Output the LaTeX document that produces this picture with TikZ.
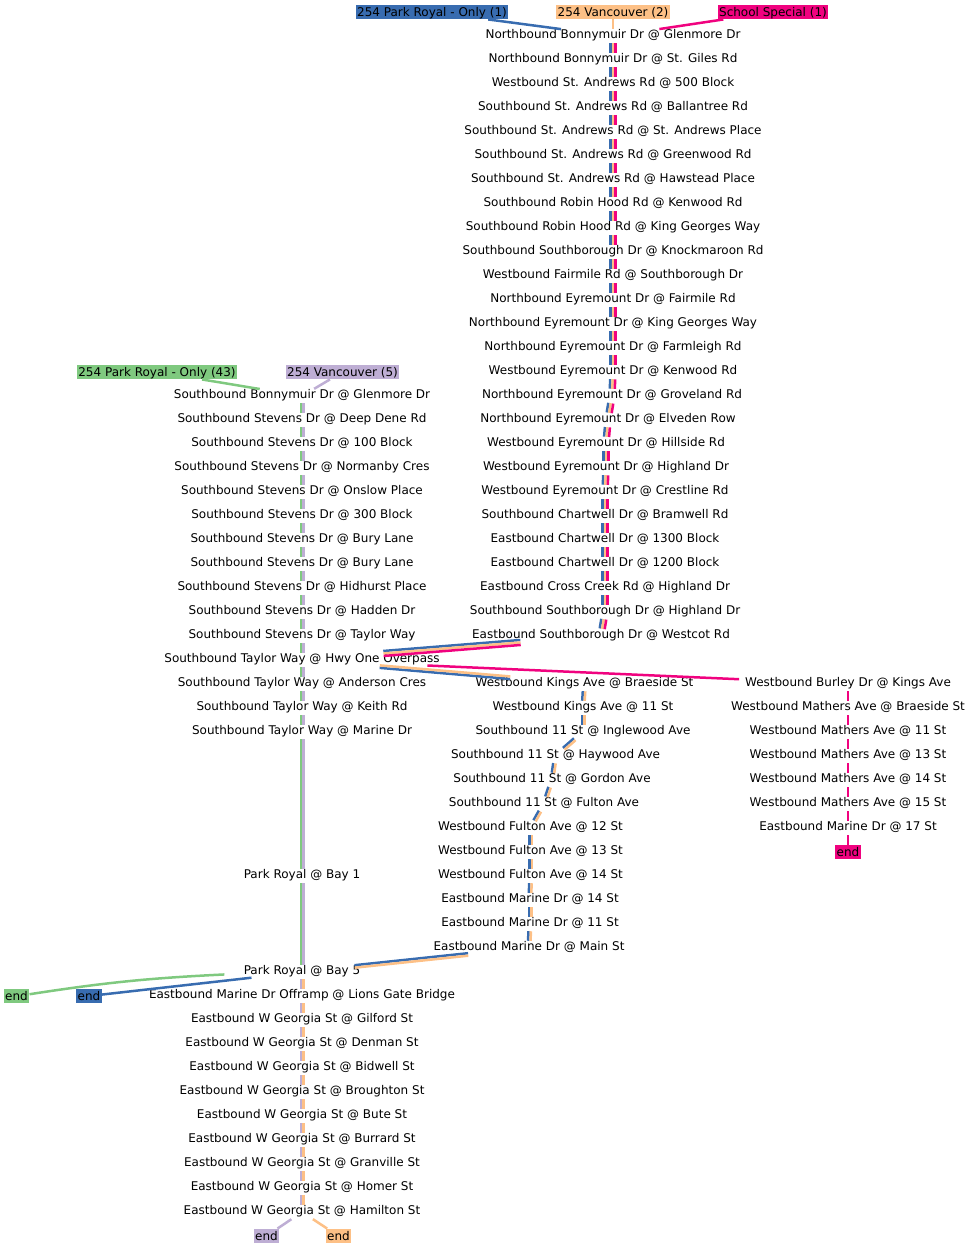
\documentclass[tikz,border=0pt]{standalone}
\usepackage{fontspec}
\setmainfont{DejaVu Sans}
\usepackage{xcolor}
\usepackage{tikz}
\usetikzlibrary{calc,shapes.geometric}

\definecolor{acgreen}{HTML}{7FC97F}
\definecolor{acpurple}{HTML}{BEAED4}
\definecolor{acorange}{HTML}{FDC086}
\definecolor{acblue}{HTML}{386CB0}
\definecolor{acpink}{HTML}{F0027F}

% parallel route lines between two stops
\newcommand{\bundle}[3]{%
  \path (#1) -- (#2) coordinate[pos=0] (bs) coordinate[pos=1] (be);
  \foreach \c/\o in {#3}
    \draw[routeline, \c] ($(bs)!\o!90:(be)$) -- ($(be)!\o!-90:(bs)$);
}

\begin{document}
\begin{tikzpicture}[
        x=1pt, y=-1pt,
        font=\fontsize{12}{14}\selectfont,
        stop/.style={ellipse, inner sep=0pt, text height=7.5pt, text depth=2.4pt, yshift=-2pt},
        tag/.style={rectangle, fill=#1, inner xsep=1.5pt, inner ysep=1pt, text height=10.5pt, text depth=2pt, yshift=-2pt},
        routeline/.style={line width=2.5pt}
    ]
    \useasboundingbox (0,0) rectangle (971,1248);

    % route tags
    \node[tag=acblue] (pro1) at (432,10) {254 Park Royal - Only (1)};
    \node[tag=acorange] (van2) at (613,10) {254 Vancouver (2)};
    \node[tag=acpink] (ss1) at (773,10) {School Special (1)};
    \node[tag=acgreen] (pro43) at (157,370) {254 Park Royal - Only (43)};
    \node[tag=acpurple] (van5) at (342.5,370) {254 Vancouver (5)};

    % upper stops
    \foreach \x/\txt [count=\i from 0] in {
        613/Northbound Bonnymuir Dr @ Glenmore Dr,
        613/Northbound Bonnymuir Dr @ St. Giles Rd,
        613/Westbound St. Andrews Rd @ 500 Block,
        613/Southbound St. Andrews Rd @ Ballantree Rd,
        613/Southbound St. Andrews Rd @ St. Andrews Place,
        613/Southbound St. Andrews Rd @ Greenwood Rd,
        613/Southbound St. Andrews Rd @ Hawstead Place,
        613/Southbound Robin Hood Rd @ Kenwood Rd,
        613/Southbound Robin Hood Rd @ King Georges Way,
        613/Southbound Southborough Dr @ Knockmaroon Rd,
        613/Westbound Fairmile Rd @ Southborough Dr,
        613/Northbound Eyremount Dr @ Fairmile Rd,
        613/Northbound Eyremount Dr @ King Georges Way,
        613/Northbound Eyremount Dr @ Farmleigh Rd,
        613/Westbound Eyremount Dr @ Kenwood Rd,
        612/Northbound Eyremount Dr @ Groveland Rd,
        608/Northbound Eyremount Dr @ Elveden Row,
        606/Westbound Eyremount Dr @ Hillside Rd,
        606/Westbound Eyremount Dr @ Highland Dr,
        605/Westbound Eyremount Dr @ Crestline Rd,
        605/Southbound Chartwell Dr @ Bramwell Rd,
        605/Eastbound Chartwell Dr @ 1300 Block,
        605/Eastbound Chartwell Dr @ 1200 Block,
        605/Eastbound Cross Creek Rd @ Highland Dr,
        605/Southbound Southborough Dr @ Highland Dr,
        601/Eastbound Southborough Dr @ Westcot Rd}
        \node[stop] (t\i) at (\x,{34+24*\i}) {\txt};

    % left stops
    \foreach \txt [count=\i from 0] in {
        Southbound Bonnymuir Dr @ Glenmore Dr,
        Southbound Stevens Dr @ Deep Dene Rd,
        Southbound Stevens Dr @ 100 Block,
        Southbound Stevens Dr @ Normanby Cres,
        Southbound Stevens Dr @ Onslow Place,
        Southbound Stevens Dr @ 300 Block,
        Southbound Stevens Dr @ Bury Lane,
        Southbound Stevens Dr @ Bury Lane,
        Southbound Stevens Dr @ Hidhurst Place,
        Southbound Stevens Dr @ Hadden Dr,
        Southbound Stevens Dr @ Taylor Way,
        Southbound Taylor Way @ Hwy One Overpass,
        Southbound Taylor Way @ Anderson Cres,
        Southbound Taylor Way @ Keith Rd,
        Southbound Taylor Way @ Marine Dr}
        \node[stop] (l\i) at (302,{394+24*\i}) {\txt};
    \node[stop] (bay1) at (302,874) {Park Royal @ Bay 1};
    \node[stop] (bay5) at (302,970) {Park Royal @ Bay 5};
    \foreach \txt [count=\i from 0] in {
        Eastbound Marine Dr Offramp @ Lions Gate Bridge,
        Eastbound W Georgia St @ Gilford St,
        Eastbound W Georgia St @ Denman St,
        Eastbound W Georgia St @ Bidwell St,
        Eastbound W Georgia St @ Broughton St,
        Eastbound W Georgia St @ Bute St,
        Eastbound W Georgia St @ Burrard St,
        Eastbound W Georgia St @ Granville St,
        Eastbound W Georgia St @ Homer St,
        Eastbound W Georgia St @ Hamilton St}
        \node[stop] (g\i) at (302,{994+24*\i}) {\txt};

    % middle stops
    \foreach \x/\txt [count=\i from 0] in {
        584.5/Westbound Kings Ave @ Braeside St,
        583/Westbound Kings Ave @ 11 St,
        583/Southbound 11 St @ Inglewood Ave,
        555.5/Southbound 11 St @ Haywood Ave,
        552/Southbound 11 St @ Gordon Ave,
        544/Southbound 11 St @ Fulton Ave,
        530.5/Westbound Fulton Ave @ 12 St,
        530.5/Westbound Fulton Ave @ 13 St,
        530.5/Westbound Fulton Ave @ 14 St,
        530/Eastbound Marine Dr @ 14 St,
        530/Eastbound Marine Dr @ 11 St,
        529/Eastbound Marine Dr @ Main St}
        \node[stop] (m\i) at (\x,{682+24*\i}) {\txt};

    % right stops
    \foreach \txt [count=\i from 0] in {
        Westbound Burley Dr @ Kings Ave,
        Westbound Mathers Ave @ Braeside St,
        Westbound Mathers Ave @ 11 St,
        Westbound Mathers Ave @ 13 St,
        Westbound Mathers Ave @ 14 St,
        Westbound Mathers Ave @ 15 St,
        Eastbound Marine Dr @ 17 St}
        \node[stop] (r\i) at (848,{682+24*\i}) {\txt};

    % end tags
    \node[tag=acgreen] (endg) at (16.5,994) {end};
    \node[tag=acblue] (endb) at (89,994) {end};
    \node[tag=acpink] (ends) at (848,850) {end};
    \node[tag=acpurple] (endp) at (266.5,1234) {end};
    \node[tag=acorange] (endo) at (338.5,1234) {end};

    % routes
    \draw[routeline, acblue] (pro1) -- (t0);
    \draw[routeline, acorange] (van2) -- (t0);
    \draw[routeline, acpink] (ss1) -- (t0);
    \draw[routeline, acgreen] (pro43) -- (l0);
    \draw[routeline, acpurple] (van5) -- (l0);

    \foreach \i [evaluate=\i as \j using int(\i+1)] in {0,...,24}
        {\bundle{t\i}{t\j}{acblue/-2.5pt,acorange/0pt,acpink/2.5pt}}
    \bundle{t25}{l11}{acblue/-2.5pt,acorange/0pt,acpink/2.5pt}
    \foreach \i [evaluate=\i as \j using int(\i+1)] in {0,...,13}
        {\bundle{l\i}{l\j}{acgreen/-1.25pt,acpurple/1.25pt}}
    \bundle{l14}{bay1}{acgreen/-1.25pt,acpurple/1.25pt}
    \bundle{bay1}{bay5}{acgreen/-1.25pt,acpurple/1.25pt}

    \bundle{l11}{m0}{acblue/-1.25pt,acorange/1.25pt}
    \foreach \i [evaluate=\i as \j using int(\i+1)] in {0,...,10}
        {\bundle{m\i}{m\j}{acblue/-1.25pt,acorange/1.25pt}}
    \bundle{m11}{bay5}{acblue/-1.25pt,acorange/1.25pt}

    \draw[routeline, acpink] (l11) -- (r0);
    \foreach \i [evaluate=\i as \j using int(\i+1)] in {0,...,5}
        {\draw[routeline, acpink] (r\i) -- (r\j);}
    \draw[routeline, acpink] (r6) -- (ends);

    \draw[routeline, acgreen] (bay5) to[bend right=3] (endg);
    \draw[routeline, acblue] (bay5) -- (endb);
    \bundle{bay5}{g0}{acpurple/-1.25pt,acorange/1.25pt}
    \foreach \i [evaluate=\i as \j using int(\i+1)] in {0,...,8}
        {\bundle{g\i}{g\j}{acpurple/-1.25pt,acorange/1.25pt}}
    \draw[routeline, acpurple] (g9) -- (endp);
    \draw[routeline, acorange] (g9) -- (endo);
\end{tikzpicture}
\end{document}
